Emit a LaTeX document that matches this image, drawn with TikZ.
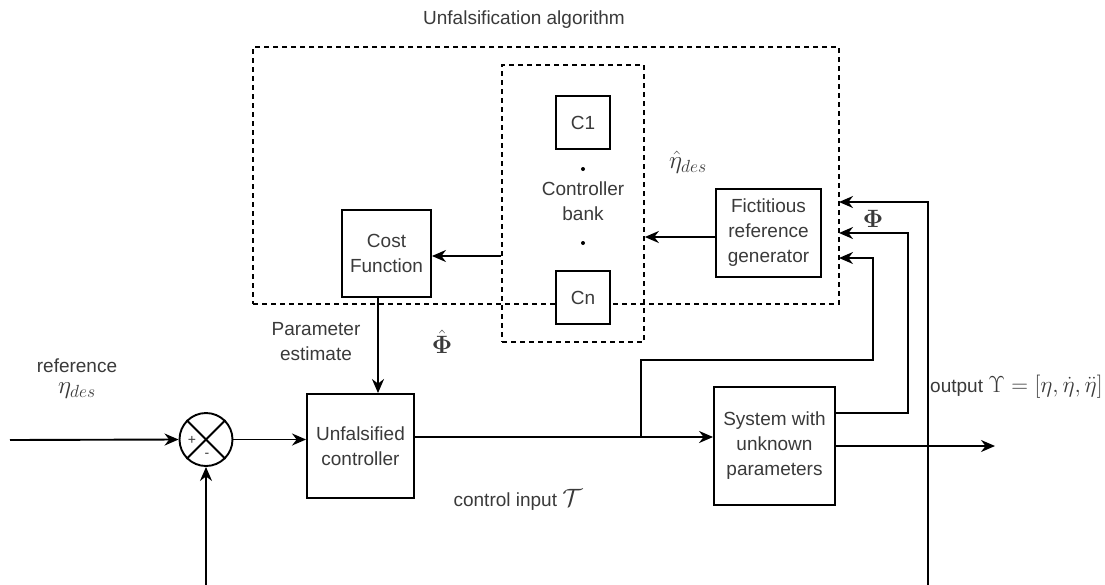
\RequirePackage{fix-cm}
\documentclass[tikz,border=0pt]{standalone}
\usepackage{amsmath}
\usepackage{fontspec}
\setmainfont{Liberation Sans}
\usetikzlibrary{arrows.meta,calc}
\definecolor{txt}{HTML}{3A3A3A}
\newcommand{\bigmath}[2][1.32]{\scalebox{#1}{$#2$}}
\begin{document}
\begin{tikzpicture}[x=1pt,y=-1pt,
  every node/.style={font=\fontsize{19}{23}\selectfont, text=txt},
  blk/.style={draw=black, line width=1.9pt, fill=white, inner sep=0pt, align=center},
  dbox/.style={draw=black, line width=1.7pt, dash pattern=on 5pt off 4pt, inner sep=0pt},
  arr/.style={draw=black, line width=1.9pt, -{Stealth[length=14pt,width=12pt]}},
  ln/.style={draw=black, line width=1.9pt},
  lbl/.style={align=center, inner sep=0pt}]
\useasboundingbox (0,0) rectangle (1105,584);
\clip (0,0) rectangle (1105,584);
\fill[white] (0,0) rectangle (1105,584);

% dashed containers
\node[dbox, minimum width=586pt, minimum height=257pt] (outer) at (546,175.5) {};
\node[dbox, minimum width=142pt, minimum height=277pt] (bank) at (573,203.5) {};
\node[lbl] (title) at (524,20) {Unfalsification algorithm};

% blocks
\node[blk, minimum width=54pt, minimum height=53pt] (c1) at (583,122.5) {C1};
\node[blk, minimum width=54pt, minimum height=53pt] (cn) at (583,297.5) {Cn};
\fill[black] (583,169) circle (2pt);
\fill[black] (583,243) circle (2pt);
\node[lbl] (banklbl) at (583,201) {Controller\\[2pt]bank};
\node[blk, minimum width=89pt, minimum height=87pt] (cost) at (386.5,253.5) {Cost\\[2pt]Function};
\node[blk, minimum width=105pt, minimum height=88pt] (fict) at (768.5,233) {Fictitious\\[2pt]reference\\[2pt]generator};
\node[blk, minimum width=107pt, minimum height=104pt] (unf) at (360.5,446) {Unfalsified\\[2pt]controller};
\node[blk, minimum width=121pt, minimum height=118pt] (sys) at (774.5,446) {System with\\[2pt]unknown\\[2pt]parameters};
\node[draw=black, line width=1.9pt, circle, minimum size=53pt, inner sep=0pt] (sum) at (206,439.5) {};
\draw[ln] (sum.north west) -- (sum.south east);
\draw[ln] (sum.north east) -- (sum.south west);
\node[lbl, font=\fontsize{14}{16}\selectfont] (plus) at (192,440) {+};
\node[lbl, font=\fontsize{14}{16}\selectfont] (minus) at (207,455) {-};

% labels
\node[lbl] (ref) at (77,366) {reference};
\node[lbl] (etades) at (77,391) {\bigmath{\eta_{des}}};
\node[lbl] (pest) at (316,342) {Parameter\\[2pt]estimate};
\node[lbl] (phihat) at (442,342) {\bigmath{\hat{\boldsymbol{\Phi}}}};
\node[lbl] (etahat) at (688,162) {\bigmath{\hat{\eta}_{des}}};
\node[lbl] (phi) at (873,219) {\bigmath{\boldsymbol{\Phi}}};
\node[lbl] (ctrl) at (518,500) {control input \bigmath{\mathcal{T}}};
\node[lbl, anchor=west] (outlbl) at (930,387) {output \bigmath[1.22]{\Upsilon=[\eta,\dot{\eta},\ddot{\eta}]}};

% coordinates
\coordinate (src) at (10,440);
\coordinate (j) at (641,437);
\coordinate (in1) at (839,202);
\coordinate (in2) at (839,233);
\coordinate (in3) at (839,258);
\coordinate (pe) at (378,0);
\coordinate (fb1) at (928,620);
\coordinate (fb2) at (206,620);
\coordinate (outend) at (995,446);

% connectors
\draw[arr] (src) -- (sum.west);
\draw[arr] (sum.east) -- (unf.west |- sum.east);
\draw[arr] (cost.south -| pe) -- (unf.north -| pe);
\draw[arr] (unf.east |- j) -- (sys.west |- j);
\draw[arr] (j) |- (873,360) |- (in3);
\draw[arr] ($(sys.east)+(0,-33)$) -| (908,233) -- (in2);
\draw[arr] (sys.east) -- (outend);
\draw[arr] (fb1) |- (in1);
\draw[ln] (fb1) -- (fb2);
\draw[arr] (fb2) -- (sum.south);
\draw[arr] (fict.west |- 0,237) -- (bank.east |- 0,237);
\draw[arr] (bank.west |- 0,256) -- (cost.east |- 0,256);
\end{tikzpicture}
\end{document}
